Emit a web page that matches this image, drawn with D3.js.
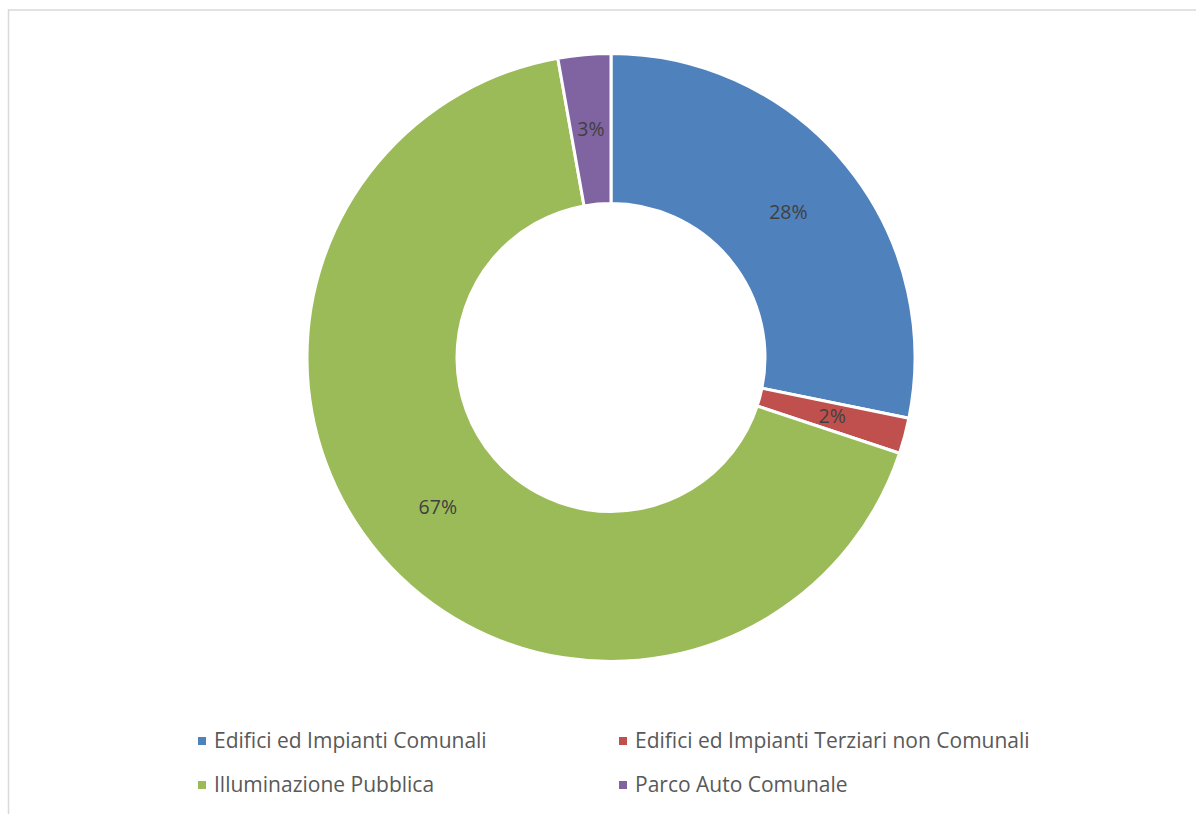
<!DOCTYPE html>
<html>
<head>
<meta charset="utf-8">
<script src="https://cdn.jsdelivr.net/npm/d3@7"></script>
<style>
  body { margin: 0; background: #fff; }
  svg { display: block; }
</style>
</head>
<body>
<div id="chart"></div>
<script>
const categories = [
  "Edifici ed Impianti Comunali",
  "Edifici ed Impianti Terziari non Comunali",
  "Illuminazione Pubblica",
  "Parco Auto Comunale"
];
const values = [28.2, 1.9, 67.1, 2.8];
const labels = ["28%", "2%", "67%", "3%"];
const colors = ["#4f81bd", "#c0504d", "#9bbb59", "#8064a2"];

const W = 1196, H = 814;
const cx = 611, cy = 357.5;
const outer_r = 304, inner_r = 154;

const svg = d3.select("#chart").append("svg")
    .attr("width", W)
    .attr("height", H);

svg.append("rect")
    .attr("x", 8.5).attr("y", 10)
    .attr("width", W + 10).attr("height", H + 10)
    .attr("fill", "none")
    .attr("stroke", "#d9d9d9")
    .attr("stroke-width", 1.5);

const pie = d3.pie().sort(null).value(d => d);
const arc = d3.arc().innerRadius(inner_r).outerRadius(outer_r);
const label_arc = d3.arc().innerRadius((inner_r + outer_r) / 2).outerRadius((inner_r + outer_r) / 2);

const arcs = pie(values);
const g = svg.append("g").attr("transform", `translate(${cx},${cy})`);

g.selectAll("path")
    .data(arcs)
    .enter().append("path")
    .attr("d", arc)
    .attr("fill", (d, i) => colors[i])
    .attr("stroke", "#fff")
    .attr("stroke-width", 3);

g.selectAll("text")
    .data(arcs)
    .enter().append("text")
    .attr("transform", d => `translate(${label_arc.centroid(d)})`)
    .attr("text-anchor", "middle")
    .attr("dy", "0.35em")
    .style("font-family", "'Open Sans', 'DejaVu Sans', sans-serif")
    .style("font-size", "19.5px")
    .style("fill", "#404040")
    .text((d, i) => labels[i]);

// legend, two columns
const legend_pos = [
  { x: 198, y: 741 }, { x: 619, y: 741 },
  { x: 198, y: 785 }, { x: 619, y: 785 }
];
const legend = svg.append("g");
const item = legend.selectAll("g")
    .data(categories)
    .enter().append("g")
    .attr("transform", (d, i) => `translate(${legend_pos[i].x},${legend_pos[i].y})`);

item.append("rect")
    .attr("x", 0).attr("y", -4)
    .attr("width", 8).attr("height", 8)
    .attr("fill", (d, i) => colors[i]);

item.append("text")
    .attr("x", 16)
    .attr("dy", "0.35em")
    .style("font-family", "'Open Sans', 'DejaVu Sans', sans-serif")
    .style("font-size", "21px")
    .style("fill", "#595959")
    .text(d => d);
</script>
</body>
</html>
